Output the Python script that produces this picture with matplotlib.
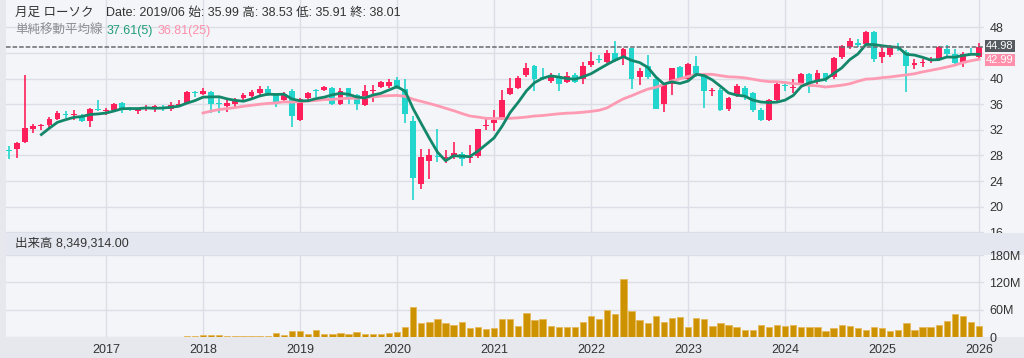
import numpy as np
import pandas as pd
import matplotlib
matplotlib.use('Agg')
import matplotlib.pyplot as plt

plt.rcParams['font.family'] = ['Liberation Sans', 'Noto Sans CJK JP', 'DejaVu Sans']

# monthly candles 2016/01 .. 2026/01
months = pd.date_range('2016-01-01', '2026-01-01', freq='MS')

opens = [28.9, 29.0, 30.1, 32.1, 32.6, 32.7, 33.7, 34.4, 34.3, 34.2,
         33.4, 35.3, 34.9, 35.1, 36.2, 35.4, 35.0, 35.4, 35.4, 35.5,
         35.2, 35.8, 36.2, 37.8, 37.6, 37.9, 36.1, 35.7, 36.1, 36.9,
         37.3, 37.7, 38.3, 37.4, 36.6, 38.1, 33.5, 36.9, 38.2, 38.2,
         38.6, 35.99, 38.5, 37.4, 35.9, 38.1, 38.7, 38.8, 39.7, 38.3,
         33.3, 23.5, 27.1, 27.9, 27.6, 27.8, 28.3, 27.6, 27.9, 32.6,
         33.1, 33.8, 37.6, 38.6, 40.5, 41.9, 40.1, 39.6, 40.4, 39.5,
         40.5, 39.9, 42.1, 43.0, 42.6, 44.0, 43.2, 44.7, 40.2, 41.9,
         39.9, 36.0, 39.2, 41.8, 40.0, 41.9, 40.5, 38.0, 38.2, 35.2,
         37.4, 38.6, 37.7, 35.1, 33.6, 36.6, 39.0, 38.5, 39.2, 40.7,
         39.5, 40.8, 40.3, 43.3, 44.9, 45.6, 45.4, 47.3, 43.3, 43.7,
         45.0, 44.2, 42.1, 42.4, 42.8, 43.0, 44.6, 43.9, 42.6, 44.0,
         43.4]
highs = [29.5, 30.1, 40.5, 32.9, 32.9, 34.0, 34.9, 34.9, 35.1, 34.4,
         35.4, 36.7, 35.4, 36.2, 36.4, 35.6, 35.3, 35.9, 35.9, 35.9,
         36.3, 36.7, 38.0, 38.1, 38.6, 38.0, 37.2, 36.6, 37.0, 37.8,
         38.2, 38.8, 38.8, 37.5, 37.9, 38.3, 37.0, 37.9, 38.3, 38.9,
         38.7, 38.53, 38.6, 37.6, 39.0, 39.0, 39.6, 39.9, 40.2, 39.9,
         34.1, 29.0, 29.0, 32.2, 28.8, 30.1, 28.6, 29.7, 32.2, 34.0,
         35.1, 38.2, 40.1, 40.4, 42.4, 42.1, 41.6, 40.8, 40.9, 41.1,
         40.9, 42.6, 44.2, 43.7, 44.5, 45.8, 44.8, 44.8, 41.6, 43.6,
         40.1, 39.2, 41.7, 42.0, 42.4, 43.5, 40.7, 38.6, 38.6, 37.2,
         39.1, 38.8, 37.9, 35.4, 36.8, 39.6, 39.4, 39.9, 40.9, 40.8,
         41.3, 40.9, 43.3, 45.2, 46.3, 46.1, 47.4, 47.4, 44.8, 45.2,
         45.6, 44.5, 43.0, 43.1, 43.3, 45.1, 45.2, 44.6, 44.1, 44.8,
         45.5]
lows = [27.5, 27.6, 30.0, 31.5, 32.0, 32.3, 33.6, 33.8, 33.6, 33.2,
        32.5, 34.9, 34.3, 34.9, 34.6, 35.0, 34.5, 35.0, 34.8, 34.9,
        35.0, 35.5, 36.1, 37.2, 37.4, 34.6, 34.6, 34.8, 35.5, 36.5,
        37.0, 37.5, 37.3, 35.6, 36.4, 32.4, 33.3, 36.7, 37.2, 38.0,
        35.9, 35.91, 36.1, 35.1, 35.7, 36.3, 38.5, 38.6, 38.4, 33.1,
        21.0, 22.7, 24.4, 27.0, 26.9, 27.4, 26.3, 26.8, 27.6, 32.0,
        31.8, 33.5, 37.4, 38.4, 40.3, 38.0, 39.8, 39.3, 38.1, 39.3,
        39.3, 39.2, 41.8, 42.5, 42.4, 42.6, 42.1, 38.4, 39.0, 40.0,
        35.3, 34.8, 37.5, 39.9, 39.6, 40.3, 35.4, 37.3, 35.0, 34.9,
        37.1, 36.6, 34.8, 33.3, 33.4, 36.3, 38.0, 37.7, 39.0, 37.8,
        39.2, 39.4, 39.9, 43.1, 44.6, 45.0, 45.2, 42.6, 42.5, 43.4,
        44.3, 37.9, 41.5, 41.8, 42.4, 42.8, 43.5, 42.3, 41.8, 43.6,
        43.2]
closes = [28.7, 30.0, 32.3, 32.6, 32.7, 33.7, 34.6, 34.3, 34.4, 33.4,
          35.2, 35.1, 35.0, 36.0, 35.2, 35.3, 35.1, 35.5, 35.7, 35.4,
          35.9, 35.9, 37.9, 37.7, 38.1, 36.1, 36.0, 36.2, 36.6, 37.4,
          37.9, 38.3, 37.6, 36.4, 37.6, 34.2, 36.8, 37.7, 38.1, 38.7,
          36.0, 38.01, 36.9, 36.0, 38.0, 38.2, 39.4, 39.5, 38.6, 34.4,
          24.5, 27.8, 28.1, 27.8, 27.7, 28.4, 27.4, 27.8, 32.1, 32.8,
          33.6, 36.6, 38.5, 40.1, 41.6, 40.0, 40.0, 40.4, 39.2, 40.4,
          39.5, 41.9, 42.8, 42.9, 44.0, 42.8, 44.6, 39.9, 41.2, 40.3,
          35.3, 39.0, 41.6, 40.0, 42.2, 40.5, 38.0, 38.2, 35.1, 37.0,
          38.8, 37.2, 35.1, 33.6, 36.6, 39.1, 38.8, 38.7, 40.7, 39.3,
          40.8, 39.9, 43.2, 45.1, 45.8, 45.2, 47.3, 43.1, 44.2, 45.0,
          44.7, 41.9, 42.5, 42.5, 42.9, 45.0, 43.9, 42.4, 43.8, 43.8,
          44.98]
# volume in millions of shares (no data before 2017/11)
volumes = [0] * 22 + [
    2, 2, 4, 4, 4, 2, 2, 2, 2, 2,
    2, 9, 4.5, 14, 14, 7, 16, 7, 7, 8.3,
    7, 12, 7, 7, 7, 9, 12, 21, 66, 30,
    33, 40, 30, 26, 33, 19, 21, 17, 19, 40,
    40, 25, 53, 37, 40, 25, 23, 23, 23, 33,
    47, 40, 59, 51, 127, 56, 37, 30, 47, 33,
    41, 44, 23, 41, 40, 25, 30, 27, 23, 16,
    16, 27, 21, 27, 24, 27, 21, 23, 21, 14,
    19, 27, 24, 19, 16, 21, 19, 14, 16, 30,
    16, 21, 23, 27, 36, 51, 47, 33, 25]

years = ['2017', '2018', '2019', '2020', '2021', '2022', '2023', '2024', '2025', '2026']
price_ticks = [16, 20, 24, 28, 32, 36, 40, 44, 48]
# the 44 label sits under the last-price box in the reference
price_tick_labels = ['16', '20', '24', '28', '32', '36', '40', '', '48']
vol_ticks = [0, 60, 120, 180]
vol_tick_labels = ['0', '60M', '120M', '180M']

df = pd.DataFrame({'open': opens, 'high': highs, 'low': lows, 'close': closes,
                   'volume': volumes}, index=months)
df['ma5'] = df['close'].rolling(5).mean()
df['ma25'] = df['close'].rolling(25).mean()
x = np.arange(len(df))
year_pos = [x[months.year == int(y)][0] for y in years]

UP = '#ff1f5a'
DOWN = '#22d6cd'
GRID = '#dcdee7'
BG = '#f4f5f8'

W, H = 1024, 358
fig = plt.figure(figsize=(W / 100, H / 100), dpi=100, facecolor=BG)


def px_axes(l, t, r, b):
    return fig.add_axes([l / W, 1 - b / H, (r - l) / W, (b - t) / H])


def bare(a):
    a.set_xticks([])
    a.set_yticks([])
    for s in a.spines.values():
        s.set_visible(False)


# grey bottom strip (date axis) and left edge, drawn first so they stay behind
bottom = px_axes(0, 337, 1024, 358)
bottom.set_facecolor('#e6e8ee')
bare(bottom)
left = px_axes(0, 0, 6, 358)
left.set_facecolor('#e6e8ee')
bare(left)

ax = px_axes(6, 0, 984, 233)
band = px_axes(6, 233, 1024, 255)
axv = px_axes(6, 255, 984, 337)

# price panel
ax.set_facecolor(BG)
up = df['close'] >= df['open']
colors = np.where(up, UP, DOWN)
ax.vlines(x, df['low'], df['high'], colors=colors, lw=1.2, zorder=2)
body_h = np.maximum((df['close'] - df['open']).abs(), 0.18)
ax.bar(x, body_h, bottom=np.minimum(df['open'], df['close']), width=0.72,
       color=colors, zorder=3)
ax.plot(x, df['ma25'], color='#ff9ab3', lw=2, zorder=4)
ax.plot(x, df['ma5'], color='#13876a', lw=2, zorder=5)
ax.axhline(closes[-1], color='#666a70', lw=1.1, ls=(0, (3, 1.3)), zorder=6)

ax.set_xlim(-0.37, 120.6)
ax.set_ylim(15.9, 52.26)
ax.set_yticks(price_ticks)
ax.set_yticklabels(price_tick_labels)
ax.yaxis.tick_right()
ax.set_xticks(year_pos)
ax.set_xticklabels([])
ax.tick_params(axis='both', length=0)
ax.tick_params(axis='y', pad=4, labelsize=9, labelcolor='#333333')
ax.grid(True, color=GRID, lw=1)
ax.set_axisbelow(True)
for s in ax.spines.values():
    s.set_visible(False)

tr = ax.get_yaxis_transform()
ax.text(1.002, closes[-1] + 0.1, f'{closes[-1]:.2f}', transform=tr, va='center', ha='left',
        fontsize=8, color='white',
        bbox=dict(boxstyle='square,pad=0.1', fc='#555a60', ec='none'))
ax.text(1.002, df['ma25'].iloc[-1] - 0.15, '42.99', transform=tr, va='center', ha='left',
        fontsize=8, color='white',
        bbox=dict(boxstyle='square,pad=0.1', fc='#ff8fab', ec='none'))

# header texts
fig.text(15 / W, 1 - 13 / H, '月足 ローソク', fontsize=9, color='#333333', va='center')
fig.text(106 / W, 1 - 13 / H, 'Date: 2019/06 始: 35.99 高: 38.53 低: 35.91 終: 38.01',
         fontsize=9, color='#333333', va='center')
fig.text(15 / W, 1 - 31 / H, '単純移動平均線', fontsize=9, color='#8a8c92', va='center')
fig.text(107 / W, 1 - 31 / H, '37.61(5)', fontsize=9, color='#1f9e7c', va='center')
fig.text(158 / W, 1 - 31 / H, '36.81(25)', fontsize=9, color='#ff8fab', va='center')

# volume header band
band.set_facecolor('#e4e7ef')
bare(band)
band.text(9 / 1018, 0.5, '出来高 8,349,314.00', transform=band.transAxes,
          fontsize=9, color='#333333', va='center')

# volume panel
axv.set_facecolor(BG)
axv.bar(x, df['volume'], width=0.78, color='#cc9200', edgecolor='#e6b85a', lw=0.6, zorder=3)
axv.set_xlim(-0.37, 120.6)
axv.set_ylim(0, 180)
axv.set_yticks(vol_ticks)
axv.set_yticklabels(vol_tick_labels)
axv.yaxis.tick_right()
axv.set_xticks(year_pos)
axv.set_xticklabels(years)
axv.tick_params(axis='both', length=0, labelsize=9, labelcolor='#333333')
axv.tick_params(axis='x', pad=5)
axv.tick_params(axis='y', pad=4)
axv.grid(True, color=GRID, lw=1)
axv.set_axisbelow(True)
for s in axv.spines.values():
    s.set_visible(False)

fig.savefig('out.png', dpi=100, facecolor=fig.get_facecolor())
